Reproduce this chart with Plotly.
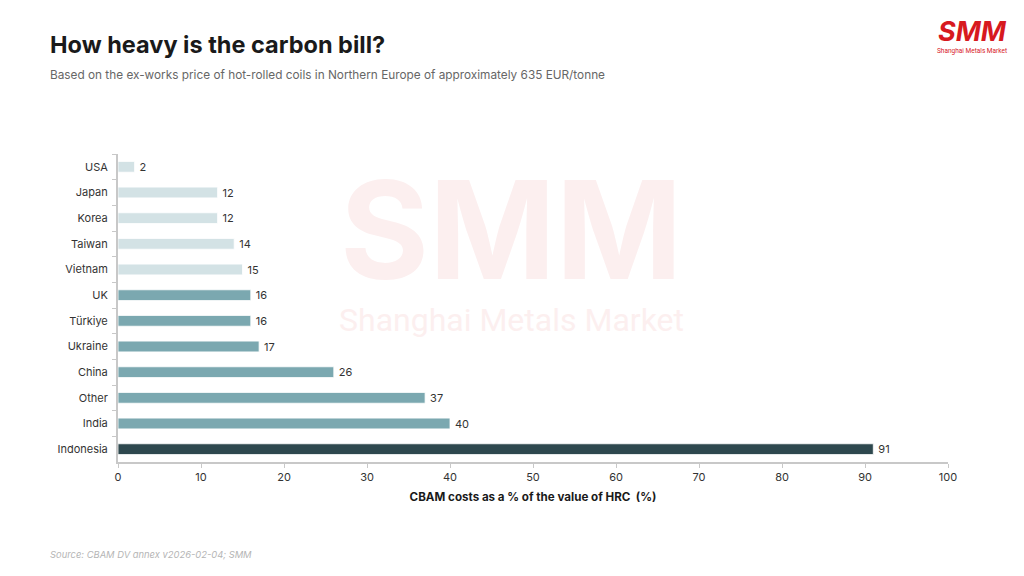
import plotly.graph_objects as go

# values, top to bottom
countries = ["USA", "Japan", "Korea", "Taiwan", "Vietnam", "UK", "Türkiye",
             "Ukraine", "China", "Other", "India", "Indonesia"]
cbam_pct = [2, 12, 12, 14, 15, 16, 16, 17, 26, 37, 40, 91]
x_ticks = [0, 10, 20, 30, 40, 50, 60, 70, 80, 90, 100]

light = "#d3e2e5"
mid = "#7ba8b0"
dark = "#2e484e"
bar_colors = [light] * 5 + [mid] * 6 + [dark]

font_family = "Inter, Roboto, 'Noto Sans', sans-serif"

# page offset of the plot div (browser body margin)
OFF = 8
W, H = 1024, 576
ML, MR, MT, MB = 118 - OFF, 76 + OFF, 154 - OFF, 114 + OFF
PW, PH = W - ML - MR, H - MT - MB


def px(x):
    # page pixel x -> paper x
    return (x - OFF - ML) / PW


def py(y):
    # page pixel y -> paper y
    return (H - MB - (y - OFF)) / PH


fig = go.Figure()

fig.add_trace(go.Bar(
    x=cbam_pct,
    y=countries,
    orientation="h",
    width=0.42,
    marker=dict(color=bar_colors, line=dict(color="white", width=0.8)),
    text=[str(v) for v in cbam_pct],
    texttemplate="\u2009%{text}",
    textposition="outside",
    constraintext="none",
    textfont=dict(size=11, color="#333333", family=font_family),
    cliponaxis=False,
    hoverinfo="x+y",
))

# watermark
fig.add_annotation(
    x=px(511), y=py(288), xref="paper", yref="paper", xanchor="center", yanchor="bottom",
    text="<b>SMM</b>", showarrow=False, yshift=-26,
    font=dict(size=136, color="#fcefef", family="Inter, sans-serif"),
)
fig.add_annotation(
    x=px(511), y=py(320), xref="paper", yref="paper", xanchor="center", yanchor="middle",
    text="Shanghai Metals Market", showarrow=False,
    font=dict(size=32, color="#fcefef", family="Roboto, sans-serif"),
)

# logo top right
fig.add_annotation(
    x=px(972), y=py(31), xref="paper", yref="paper", showarrow=False,
    text="<b><i>SMM</i></b>", xanchor="center", yanchor="middle",
    font=dict(size=27, color="#d7191f", family="Inter, sans-serif"),
)
fig.add_annotation(
    x=px(972), y=py(51), xref="paper", yref="paper", showarrow=False,
    text="Shanghai Metals Market", xanchor="center", yanchor="middle",
    font=dict(size=6.5, color="#d7191f", family="Roboto, sans-serif"),
)

fig.add_annotation(
    x=px(48), y=py(45), xref="paper", yref="paper", showarrow=False,
    xanchor="left", yanchor="middle",
    text="<b>How heavy is the carbon bill?</b>",
    font=dict(size=23.5, color="#1a1a1a", family=font_family),
)
fig.add_annotation(
    x=px(48), y=py(75), xref="paper", yref="paper", showarrow=False,
    xanchor="left", yanchor="middle",
    text="Based on the ex-works price of hot-rolled coils in Northern Europe of approximately 635 EUR/tonne",
    font=dict(size=11.8, color="#666666", family=font_family),
)
fig.add_annotation(
    x=px(48), y=py(554), xref="paper", yref="paper", showarrow=False,
    xanchor="left", yanchor="middle",
    text="<i>Source: CBAM DV annex v2026-02-04; SMM</i>",
    font=dict(size=9.4, color="#b5b5b5", family=font_family),
)

fig.update_layout(
    width=W,
    height=H,
    margin=dict(l=ML, r=MR, t=MT, b=MB, autoexpand=False),
    paper_bgcolor="white",
    plot_bgcolor="white",
    showlegend=False,
    font=dict(family=font_family, size=11, color="#333333"),
    xaxis=dict(
        range=[0, 100],
        tickvals=x_ticks,
        showgrid=False,
        zeroline=False,
        showline=True,
        linecolor="#c8c8c8",
        linewidth=2,
        ticks="outside",
        ticklen=4,
        tickcolor="#c8c8c8",
        tickfont=dict(size=11, color="#333333"),
        title=dict(text="<b>CBAM costs as a % of the value of HRC  (%)</b>",
                   font=dict(size=11.6, color="#1a1a1a"), standoff=10),
    ),
    yaxis=dict(
        range=[11.5, -0.5],
        showgrid=False,
        zeroline=False,
        showline=True,
        linecolor="#c8c8c8",
        linewidth=2,
        ticks="outside",
        tickson="boundaries",
        ticklen=4,
        tickcolor="#c8c8c8",
        tickfont=dict(size=11, color="#333333"),
        ticklabelstandoff=6,
    ),
)

fig.write_html("out.html")
